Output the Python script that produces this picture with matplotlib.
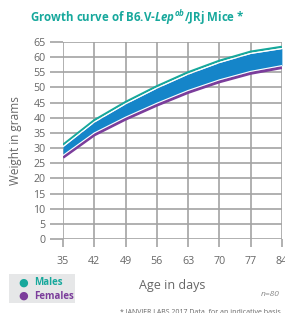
import matplotlib.pyplot as plt
import matplotlib.transforms as mtransforms
from matplotlib.patches import Rectangle

# age in days and mean weight (g)
days = [35, 42, 49, 56, 63, 70, 77, 84]
males = [30.5, 38.6, 44.6, 49.8, 54.4, 58.2, 61.2, 62.8]
females = [27.6, 35.0, 40.2, 44.8, 49.0, 52.5, 55.3, 57.2]
yticks = list(range(0, 66, 5))

teal = '#17a89c'
purple = '#7b3d9b'
blue = '#1585c9'
grey = '#a3a3a3'
text_grey = '#666666'

plt.rcParams['font.family'] = ['Open Sans', 'DejaVu Sans']
plt.rcParams['mathtext.fontset'] = 'custom'
plt.rcParams['mathtext.it'] = 'Open Sans:italic:bold'
plt.rcParams['mathtext.rm'] = 'Open Sans:bold'

fig = plt.figure(figsize=(2.85, 3.13), dpi=100)
ax = fig.add_axes([0.221, 0.236, 0.768, 0.630])

# band + outlines (white gap between coloured line and band)
ax.fill_between(days, females, males, color=blue, lw=0, zorder=3)
up = mtransforms.offset_copy(ax.transData, fig=fig, x=0, y=1.3, units='points')
down = mtransforms.offset_copy(ax.transData, fig=fig, x=0, y=-1.4, units='points')
ax.plot(days, males, color=teal, lw=1.6, transform=up, zorder=4, solid_capstyle='butt')
ax.plot(days, females, color=purple, lw=2.2, transform=down, zorder=4, solid_capstyle='butt')
ax.plot(days, males, color='white', lw=0.8, zorder=5)
ax.plot(days, females, color='white', lw=0.8, zorder=5)

ax.set_xlim(35, 84)
ax.set_ylim(0, 65)
ax.set_xticks(days)
ax.set_yticks(yticks)
ax.grid(True, color=grey, lw=1.2, zorder=1)
for s in ax.spines.values():
    s.set_visible(False)
ax.tick_params(axis='both', colors=grey, width=1.2, labelcolor=text_grey, labelsize=7.7)
ax.tick_params(axis='y', length=9.5, pad=3)
ax.tick_params(axis='x', length=6, pad=6)

ax.set_ylabel('Weight in grams', fontsize=8.5, color=text_grey, labelpad=8)
ax.set_xlabel('Age in days', fontsize=9, color=text_grey, labelpad=9)

fig.text(0.105, 0.943, r'Growth curve of B6.V-$\it{Lep}^{ob}$/JRj Mice *',
         color=teal, fontsize=8.3, fontweight='bold', va='center')

# legend box
fig.patches.append(Rectangle((0.032, 0.032), 0.232, 0.094, transform=fig.transFigure,
                             facecolor='#e6e7e8', edgecolor='none'))
fig.text(0.08, 0.096, '\u25cf', color=teal, fontsize=8, ha='center', va='center',
         family='DejaVu Sans')
fig.text(0.12, 0.096, 'Males', color=teal, fontsize=7, fontweight='bold', va='center')
fig.text(0.08, 0.054, '\u25cf', color=purple, fontsize=8, ha='center', va='center',
         family='DejaVu Sans')
fig.text(0.12, 0.054, 'Females', color=purple, fontsize=7, fontweight='bold', va='center')

fig.text(0.98, 0.06, 'n=80', color='#888888', fontsize=6, style='italic',
         ha='right', va='center')
fig.text(0.42, 0.004, '* JANVIER LABS 2017 Data, for an indicative basis',
         color=text_grey, fontsize=5, va='center')

fig.savefig('out.png', dpi=100)
